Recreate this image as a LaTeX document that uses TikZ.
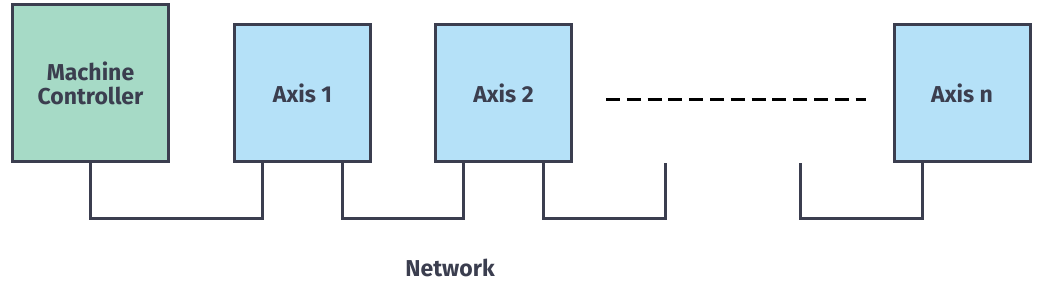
\documentclass[tikz,border=0pt]{standalone}
\usepackage{fontspec}
\setmainfont{Fira Sans}
\usetikzlibrary{calc}

\definecolor{edgegray}{HTML}{3B3E4F}
\definecolor{ctrlgreen}{HTML}{A6DAC6}
\definecolor{axisblue}{HTML}{B5E1F8}

\tikzset{
  unitbox/.style={draw=edgegray, line width=3pt, text=edgegray, font=\fontsize{23}{24}\selectfont\bfseries, align=center, inner sep=0pt},
  ctrlbox/.style={unitbox, fill=ctrlgreen, minimum width=156pt, minimum height=157pt},
  axisbox/.style={unitbox, fill=axisblue, minimum width=136pt, minimum height=137pt},
  bus/.style={edgegray, line width=3pt}
}

\begin{document}
\begin{tikzpicture}[x=1pt,y=1pt]
\useasboundingbox (0,0) rectangle (1043,-286);
\node[ctrlbox] (mc) at (90.5,-83) {Machine\\Controller};
\node[axisbox] (ax1) at (302.5,-93) {Axis 1};
\node[axisbox] (ax2) at (503.5,-93) {Axis 2};
\node[axisbox] (axn) at (962,-93) {Axis n};
\coordinate (gapl) at (665,-163);
\coordinate (gapr) at (800,-163);
\draw[black, line width=3pt, dash pattern=on 14pt off 6.8pt] (606,-100) -- (866,-100);
\draw[bus] (mc.south) -- ++(0,-55) -| ([xshift=-40pt]ax1.south);
\draw[bus] ([xshift=40pt]ax1.south) -- ++(0,-55) -| ([xshift=-40pt]ax2.south);
\draw[bus] ([xshift=40pt]ax2.south) -- ++(0,-55) -| (gapl);
\draw[bus] (gapr) -- ++(0,-55) -| ([xshift=-40pt]axn.south);
\node[text=edgegray, font=\fontsize{23}{24}\selectfont\bfseries] (net) at (450,-268) {Network};
\end{tikzpicture}
\end{document}
